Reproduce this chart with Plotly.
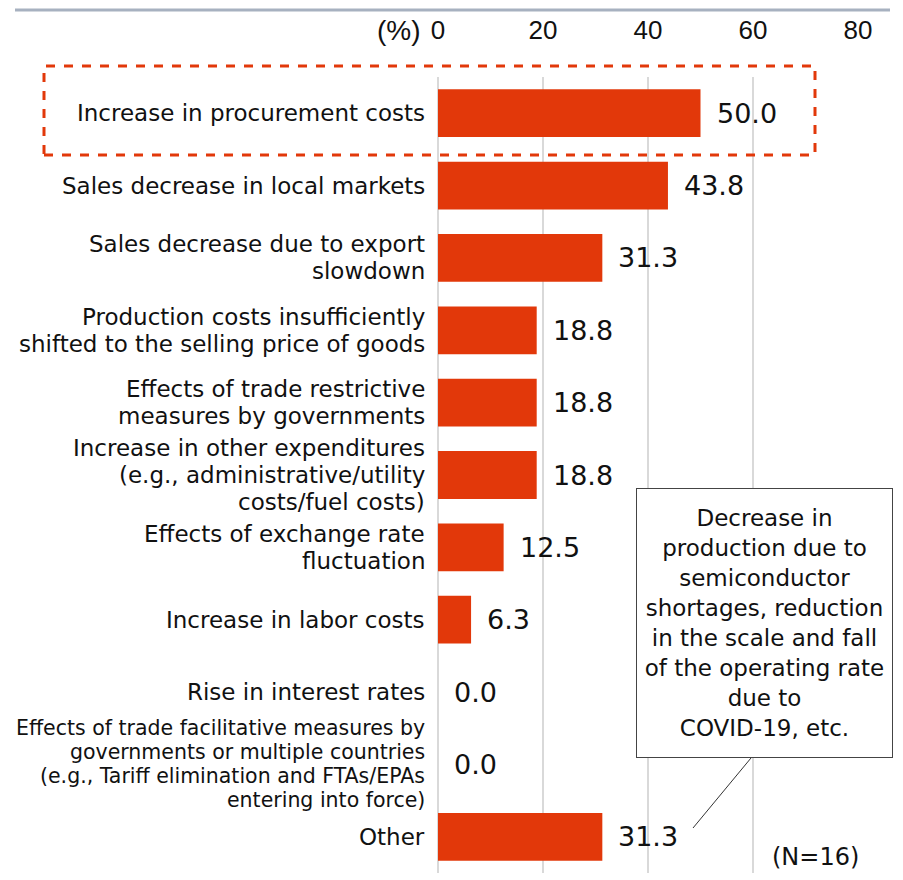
import plotly.graph_objects as go

categories = [
    "Increase in procurement costs",
    "Sales decrease in local markets",
    "Sales decrease due to export<br>slowdown",
    "Production costs insufficiently<br>shifted to the selling price of goods",
    "Effects of trade restrictive<br>measures by governments",
    "Increase in other expenditures<br>(e.g., administrative/utility<br>costs/fuel costs)",
    "Effects of exchange rate<br>fluctuation",
    "Increase in labor costs",
    "Rise in interest rates",
    "Effects of trade facilitative measures by<br>governments or multiple countries<br>(e.g., Tariff elimination and FTAs/EPAs<br>entering into force)",
    "Other",
]
values = [50.0, 43.8, 31.3, 18.8, 18.8, 18.8, 12.5, 6.3, 0.0, 0.0, 31.3]
tick_vals = [0, 20, 40, 60, 80]
small_label_index = 9

BAR = "#E2380A"
FONT = "DejaVu Sans"
NARROW = "Liberation Sans Narrow, Liberation Sans"

W, H = 895, 872
ML, MR, MT, MB = 430, 45, 69, 7
PW, PH = W - ML - MR, H - MT - MB

def px_x(fx):
    return (fx - ML) / PW

def px_y(fy):
    return (H - MB - fy) / PH

fig = go.Figure()
fig.add_trace(go.Bar(
    y=list(range(len(categories))), x=values, orientation="h",
    marker=dict(color=BAR, line=dict(width=0)),
    width=0.66, hoverinfo="skip",
))

# value labels
for i, v in enumerate(values):
    fig.add_annotation(x=v, y=i, xref="x", yref="y", text=f"{v:.1f}",
                       showarrow=False, xanchor="left", xshift=14,
                       font=dict(family=FONT, size=27, color="#111"))

# category labels (line by line for tight spacing)
for i, cat in enumerate(categories):
    lines = cat.split("<br>")
    small = i == small_label_index
    size = 20.5 if small else 23
    step = 24 if small else 27
    n = len(lines)
    for k, line in enumerate(lines):
        fig.add_annotation(x=0, y=i, xref="paper", yref="y", text=line,
                           showarrow=False, xanchor="right", yanchor="middle",
                           xshift=-12, yshift=((n - 1) / 2 - k) * step,
                           borderpad=0,
                           font=dict(family=FONT, size=size, color="#111"))

fig.update_layout(
    width=W, height=H,
    margin=dict(l=ML, r=MR, t=MT, b=MB),
    paper_bgcolor="white", plot_bgcolor="white",
    showlegend=False,
    font=dict(family=FONT, color="#111"),
    xaxis=dict(range=[0, 80], tickvals=tick_vals, side="top",
               showgrid=True, gridcolor="#D9D9D9", gridwidth=2,
               zeroline=True, zerolinecolor="#D9D9D9", zerolinewidth=2,
               showline=False, ticks="", ticklabelstandoff=32,
               tickfont=dict(family=NARROW, size=26, color="#111"),
               fixedrange=True),
    yaxis=dict(range=[len(categories) - 0.5, -0.5],
               showticklabels=False, showgrid=False, zeroline=False,
               showline=False, ticks="", fixedrange=True),
)

# (%) unit label
fig.add_annotation(x=0, y=1, xref="x", yref="paper", text="(%)", showarrow=False,
                   xanchor="right", yanchor="middle", xshift=-15, yshift=47,
                   font=dict(family=NARROW, size=28, color="#111"))

# top separator line
fig.add_shape(type="line", xref="paper", yref="paper",
              x0=px_x(7), x1=px_x(882), y0=px_y(2), y1=px_y(2),
              line=dict(color="#A7B1C0", width=3))

# dashed highlight box
fig.add_shape(type="rect", xref="paper", yref="paper",
              x0=px_x(36), x1=px_x(807), y0=px_y(147), y1=px_y(58),
              line=dict(color="#E2380A", width=3, dash="dash"))

# callout line
fig.add_shape(type="line", xref="paper", yref="paper",
              x0=px_x(685), y0=px_y(820), x1=px_x(743), y1=px_y(750),
              line=dict(color="#333", width=1))

# callout box
fig.add_annotation(x=px_x(628), y=px_y(480), xref="paper", yref="paper",
                   xanchor="left", yanchor="top", showarrow=False,
                   text="Decrease in<br>production due to<br>semiconductor<br>shortages, reduction<br>in the scale and fall<br>of the operating rate<br>due to<br>COVID-19, etc.",
                   align="center", width=251, height=264,
                   bgcolor="white", bordercolor="#444", borderwidth=1, borderpad=2,
                   font=dict(family=FONT, size=23, color="#111"))

# N label
fig.add_annotation(x=px_x(853), y=px_y(849), xref="paper", yref="paper", text="(N=16)",
                   showarrow=False, xanchor="right", yanchor="middle",
                   font=dict(family=FONT, size=24, color="#111"))

fig.write_html("out.html")
